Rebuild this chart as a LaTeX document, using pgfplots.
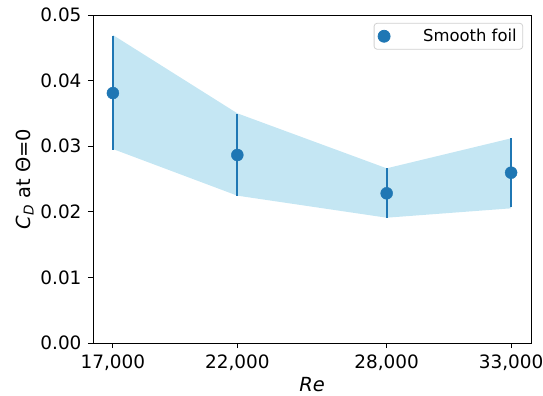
\documentclass[border=0pt]{standalone}
\usepackage{pgfplots}
\pgfplotsset{compat=1.18}
\usepackage{fontspec}
\setmainfont{DejaVu Sans}
\definecolor{mblue}{RGB}{31,119,180}
\definecolor{mfill}{RGB}{196,230,243}
\begin{document}
\begin{tikzpicture}
\useasboundingbox (-93bp,-53bp) rectangle (450bp,343bp);
\begin{axis}[
  scale only axis,
  width=438bp, height=328bp,
  xmin=16200, xmax=33800,
  ymin=0, ymax=0.05,
  xtick={17000,22000,28000,33000},
  xticklabels={{17,000},{22,000},{28,000},{33,000}},
  ytick={0,0.01,0.02,0.03,0.04,0.05},
  yticklabel style={xshift=-3bp,/pgf/number format/.cd,fixed,fixed zerofill,precision=2,assume math mode=true},
  scaled y ticks=false, scaled x ticks=false,
  tick label style={font=\fontsize{18.5}{21}\selectfont},
  xticklabel style={yshift=-3bp},
  tick align=outside,
  major tick length=5bp,
  xtick pos=bottom, ytick pos=left,
  axis line style={line width=0.9bp},
  tick style={line width=0.9bp, black},
  xlabel={\textit{Re}},
  ylabel={\textit{C}\textsubscript{\textit{D}} at Θ=0},
  label style={font=\fontsize{19.5}{22}\selectfont},
  xlabel style={yshift=0bp},
  ylabel style={yshift=0bp},
  legend style={at={(rel axis cs:0.982,0.976)}, anchor=north east, draw=black!18, rounded corners=3bp, font=\fontsize{16.5}{19}\selectfont, inner xsep=4bp, inner ysep=4bp, line width=0.8bp},
  legend cell align=left,
]
\addplot[fill=mfill, draw=none, forget plot] coordinates {
 (17000,0.04695) (22000,0.03501) (28000,0.02663) (33000,0.0312)
 (33000,0.02053) (28000,0.0191) (22000,0.02246) (17000,0.02957)
} -- cycle;
\addplot[only marks, mark=*, mark size=6bp, color=mblue,
  error bars/.cd, y dir=both, y explicit, error bar style={line width=2bp, color=mblue}, error mark=none]
  coordinates {
  (17000,0.0381) +- (0,0.0087)
  (22000,0.02866) +- (0,0.0063)
  (28000,0.02282) +- (0,0.0038)
  (33000,0.02596) +- (0,0.0053)
};
\addlegendimage{legend image code/.code={
  \draw[mblue, line width=2bp] (20bp,-7bp) -- (20bp,7bp);
  \fill[mblue] (20bp,0cm) circle (6bp);
}}
\addlegendentry{\hspace{31bp}Smooth foil}
\end{axis}
\end{tikzpicture}
\end{document}
